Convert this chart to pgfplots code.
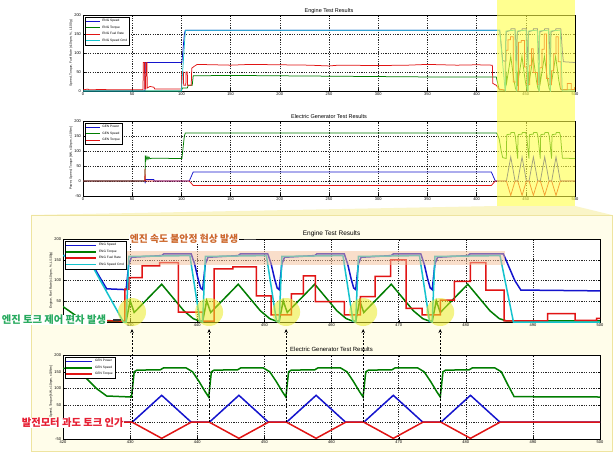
\documentclass[border=0pt]{standalone}
\usepackage{fontspec}
\setmainfont{Liberation Sans}
\newfontfamily\kr{Noto Sans CJK KR}
\usepackage{pgfplots}
\pgfplotsset{compat=1.18}
\usepackage{pgfplotstable}
\usetikzlibrary{arrows.meta}

\definecolor{engblue}{RGB}{20,20,205}
\definecolor{enggreen}{RGB}{0,125,0}
\definecolor{engred}{RGB}{225,20,20}
\definecolor{engcyan}{RGB}{20,195,205}
\definecolor{peach}{RGB}{245,190,150}
\definecolor{hilite}{RGB}{255,255,70}
\definecolor{circ}{RGB}{235,235,40}
\definecolor{wedge}{RGB}{250,245,200}
\definecolor{boxbg}{RGB}{255,253,234}
\definecolor{boxline}{RGB}{238,228,160}
\definecolor{txtorange}{RGB}{205,105,45}
\definecolor{txtgreen}{RGB}{40,170,95}
\definecolor{txtred}{RGB}{230,30,50}

% ---------------- data ----------------
\pgfplotstableread{
t v
0 0
63 0
63.2 75
100.5 75
103 150
104 160
200 160
300 160
423.5 160
424.5 135
425.5 107
426.5 80
429.4 78
429.8 140
430.2 156
434.7 160
435.0 164
439.1 164
439.6 140
440.1 105
440.5 82
440.8 78
441.2 140
441.6 156
446.1 160
446.4 164
450.5 164
451.0 140
451.5 105
451.9 82
452.2 78
452.6 140
453.0 156
457.5 160
457.8 164
461.9 164
462.4 140
462.9 105
463.3 82
463.6 78
464.0 140
464.4 156
468.9 160
469.2 164
473.3 164
473.8 140
474.3 105
474.7 82
475.0 78
475.4 140
475.8 156
480.3 160
480.6 164
485.6 164
486.5 130
487.3 100
488.2 77
500 75
}\engspeed

\pgfplotstableread{
t v
0 0
100 0
101 8
106 8
107 15
111 15
112 40
150 41
200 40
250 39
300 38
350 37
420 37
421.5 20
423 3
429.4 2
430.0 51
430.6 23
434.7 91
438.0 27
439.4 8
440.4 2
440.8 2
441.4 51
442.0 23
446.1 91
449.4 27
450.8 8
451.8 2
452.2 2
452.8 51
453.4 23
457.5 91
460.8 27
462.2 8
463.2 2
463.6 2
464.2 51
464.8 23
468.9 91
472.2 27
473.6 8
474.6 2
475.0 2
475.6 51
476.2 23
480.3 91
483.6 27
485.0 8
486.0 3
500 3
}\engtorque

\pgfplotstableread{
t v
0 3
5 5
6 3
17 4
23 4
24 3
61 3
61.3 75
62.5 75
62.8 5
63.8 5
64 75
65 75
65.3 8
68 12
72 10
73 5
100 5
100.3 50
102 50
102.3 15
104.5 15
104.8 50
106 50
106.3 15
110 15
110.5 60
113 65
116 70
150 68
170 70
200 69
230 68
250 66
260 68
300 67
330 68
350 70
380 68
400 69
416 68
416.5 20
420 15
423 5
429.2 2
429.2 79
429.8 79
429.8 107
431.8 107
431.8 135
434.4 135
434.4 143
437.2 143
437.2 24
440.8 24
440.8 2
442.5 2
442.5 128
445.3 128
445.3 133
448.8 133
448.8 63
451.0 63
451.0 17
454.0 17
454.0 68
455.8 68
455.8 111
457.6 111
457.6 49
461.9 49
461.9 17
464.3 17
464.3 61
466.5 61
466.5 110
468.8 110
468.8 150
471.1 150
471.1 33
473.5 33
473.5 17
476.2 17
476.2 53
478.3 53
478.3 98
480.7 98
480.7 143
483.0 143
483.0 77
485.7 77
485.7 3
492.2 3
492.2 20
496.3 20
496.3 4
499.5 4
499.5 9
500 9
}\engfuel

\pgfplotstableread{
t v
0 0
100 0
104 160
423.5 160
429.0 0
429.4 0
429.8 158
438.9 160
440.4 2
440.8 0
441.2 158
450.3 160
451.8 2
452.2 0
452.6 158
461.7 160
463.2 2
463.6 0
464.0 158
473.1 160
474.6 2
475.0 0
475.4 158
485.1 160
487.1 0
500 0
}\engcmd

\pgfplotstableread{
t v
0 0
63 0
63.2 -8
63.5 5
72 5
72.3 0
108 0
112 30
415 30
419 0
430.3 0
434.7 80
439.1 0
441.8 0
446.2 80
450.6 0
453.3 0
457.7 80
462.1 0
464.8 0
469.2 80
473.6 0
476.3 0
480.7 80
485.1 0
500 0
}\genpower

\pgfplotstableread{
t v
0 0
63 0
63.3 85
64 70
65 82
66 72
67 80
68 74
70 76
100.5 75
103 150
104 160
420.5 160
423 140
425 100
426.5 78
430.2 75
430.6 150
431.0 155
434.5 156
435.0 162
438.3 162
439.3 150
440.3 120
441.2 90
441.7 75
442.1 150
442.5 155
446.0 156
446.5 162
449.8 162
450.8 150
451.8 120
452.7 90
453.2 75
453.6 150
454.0 155
457.5 156
458.0 162
461.3 162
462.3 150
463.3 120
464.2 90
464.7 75
465.1 150
465.5 155
469.0 156
469.5 162
472.8 162
473.8 150
474.8 120
475.7 90
476.2 75
476.6 150
477.0 155
480.5 156
481.0 162
484.3 162
485.3 150
486.3 110
487.2 76
500 75
}\genspeed

\pgfplotstableread{
t v
0 0
62.8 0
63 40
63.3 0
108 0
112 -15
415 -15
419 0
430.3 0
434.7 -48
439.1 0
441.8 0
446.2 -48
450.6 0
453.3 0
457.7 -48
462.1 0
464.8 0
469.2 -48
473.6 0
476.3 0
480.7 -48
485.1 0
500 0
}\gentorque

\pgfplotsset{
 mat/.style={
  scale only axis,
  anchor=north west,
  axis background/.style={fill=white},
  /pgf/number format/assume math mode=true,
  /pgf/number format/1000 sep={},
  tick label style={font=\fontsize{4}{4}\selectfont},
  xticklabel style={yshift=1.5pt},
  yticklabel style={xshift=1.5pt},
  tick align=inside,
  major tick length=1.8pt,
  tick style={black,line width=0.3pt},
  axis line style={line width=0.45pt},
  grid=major,
  major grid style={black!85, line width=0.35pt, dash pattern=on 1.2pt off 1.2pt},
  ylabel style={font=\fontsize{3.2}{3.5}\selectfont, yshift=-5pt},
  legend cell align=left,
  legend style={font=\fontsize{3.2}{3.4}\selectfont, at={(0,1)}, anchor=north west,
    xshift=2pt, yshift=-2pt, inner sep=0.4pt, row sep=-1.4pt, line width=0.35pt},
 },
}

\begin{document}
\begin{tikzpicture}
% page
\fill[white] (0pt,0pt) rectangle (613pt,-456pt);
\path[use as bounding box] (0pt,0pt) rectangle (613pt,-456pt);
\begin{scope}[x=1pt,y=-1pt]
\fill[wedge] (497,206) -- (575,206) -- (612,215) -- (31,215) -- cycle;
\filldraw[fill=boxbg, draw=boxline, line width=0.8pt] (31,215) rectangle (612,451);
\end{scope}

% ---------- panel 1 ----------
\begin{axis}[mat, at={(83pt,-15pt)}, width=492pt, height=76pt,
  xmin=0, xmax=500, ymin=0, ymax=200, xtick distance=50, ytick distance=50,
  title={Engine Test Results}, title style={font=\fontsize{5.5}{6}\selectfont, yshift=-8pt},
  ylabel={Speed, Torque, Fuel Rate (x10rpm, \%, L/100g)},
  legend image code/.code={\draw[#1] (0pt,0pt) -- (14pt,0pt);},
  every axis plot/.append style={line width=0.75pt}]
\addplot[engblue] table {\engspeed};
\addplot[enggreen] table {\engtorque};
\addplot[engred] table {\engfuel};
\addplot[engcyan] table {\engcmd};
\legend{ENG Speed, ENG Torque, ENG Fuel Rate, ENG Speed Cmd}
\end{axis}

% ---------- panel 2 ----------
\begin{axis}[mat, at={(83pt,-121pt)}, width=492pt, height=75pt,
  xmin=0, xmax=500, ymin=-50, ymax=200, xtick distance=50, ytick distance=50,
  title={Electric Generator Test Results}, title style={font=\fontsize{5.5}{6}\selectfont, yshift=-7pt},
  ylabel={Power, Speed, Torque [kW, x10rpm, x10Nm]},
  legend image code/.code={\draw[#1] (0pt,0pt) -- (14pt,0pt);},
  every axis plot/.append style={line width=0.75pt}]
\addplot[engblue] table {\genpower};
\addplot[enggreen] table {\genspeed};
\addplot[engred] table {\gentorque};
\legend{GEN Power, GEN Speed, GEN Torque}
\end{axis}

% yellow highlight over the top panels
\begin{scope}[x=1pt,y=-1pt]
\fill[hilite, opacity=0.6] (497,0) rectangle (575,206);
\end{scope}

% ---------- panel 3 ----------
\begin{axis}[mat, at={(63pt,-239pt)}, width=537pt, height=83pt,
  xmin=420, xmax=500, ymin=0, ymax=200, xtick={430,440,...,500}, ytick={50,100,150,200},
  title={Engine Test Results}, title style={font=\fontsize{6.5}{7}\selectfont, yshift=-7pt},
  ylabel={Engine, Fuel Rate (x10 rpm, \%, L/100g)},
  legend image code/.code={\draw[#1] (0pt,0pt) -- (30pt,0pt);},
  every axis plot/.append style={line width=1.5pt}]
\addplot[engblue] table {\engspeed};
\addplot[enggreen] table {\engtorque};
\addplot[engred] table {\engfuel};
\addplot[engcyan] table {\engcmd};
\legend{ENG Speed, ENG Torque, ENG Fuel Rate, ENG Speed Cmd}
\fill[peach, opacity=0.5] (axis cs:425,138) rectangle (axis cs:485.8,170);
\end{axis}

% ---------- panel 4 ----------
\begin{axis}[mat, at={(63pt,-355pt)}, width=537pt, height=84pt,
  xmin=420, xmax=500, ymin=-50, ymax=200, xtick distance=10,
  ytick={-50,0,50,100,150,200}, yticklabels={-50,,50,100,150,200},
  title={Electric Generator Test Results}, title style={font=\fontsize{6}{6.5}\selectfont, yshift=-6pt},
  ylabel={Power, Speed, Torque [kW, x10rpm, x10Nm]},
  legend image code/.code={\draw[#1] (0pt,0pt) -- (26pt,0pt);},
  every axis plot/.append style={line width=1.5pt}]
\addplot[engblue] table {\genpower};
\addplot[enggreen] table {\genspeed};
\addplot[engred] table {\gentorque};
\legend{GEN Power, GEN Speed, GEN Torque}
\end{axis}

% ---------- annotations ----------
\begin{scope}[x=1pt,y=-1pt]
\foreach \cx in {132.0,209.1,286.1,363.2,440.2}{
  \fill[circ, opacity=0.55] (\cx,312) circle (14);
  \draw[black, line width=0.7pt, dash pattern=on 2pt off 1.5pt, -{Stealth[length=4pt,width=3.5pt]}] (\cx,422) -- (\cx,329);
}
\node[fill=white, inner sep=0.8pt, text=txtorange, font=\kr\bfseries\fontsize{9.8}{10}\selectfont] at (184,239) {엔진 속도 불안정 현상 발생};
\draw[black!70, line width=0.8pt] (244,239) -- (256,239);
\node[fill=white, inner sep=0.6pt, text=txtgreen, font=\kr\bfseries\fontsize{10.3}{10.5}\selectfont, anchor=west] at (1,320) {엔진 토크 제어 편차 발생};
\draw[black!80, line width=1.8pt] (113,320) -- (121,320);
\node[fill=white, inner sep=0.6pt, text=txtred, font=\kr\bfseries\fontsize{10.3}{10.5}\selectfont, anchor=west] at (21,423) {발전모터 과도 토크 인가};
\end{scope}
\end{tikzpicture}
\end{document}
